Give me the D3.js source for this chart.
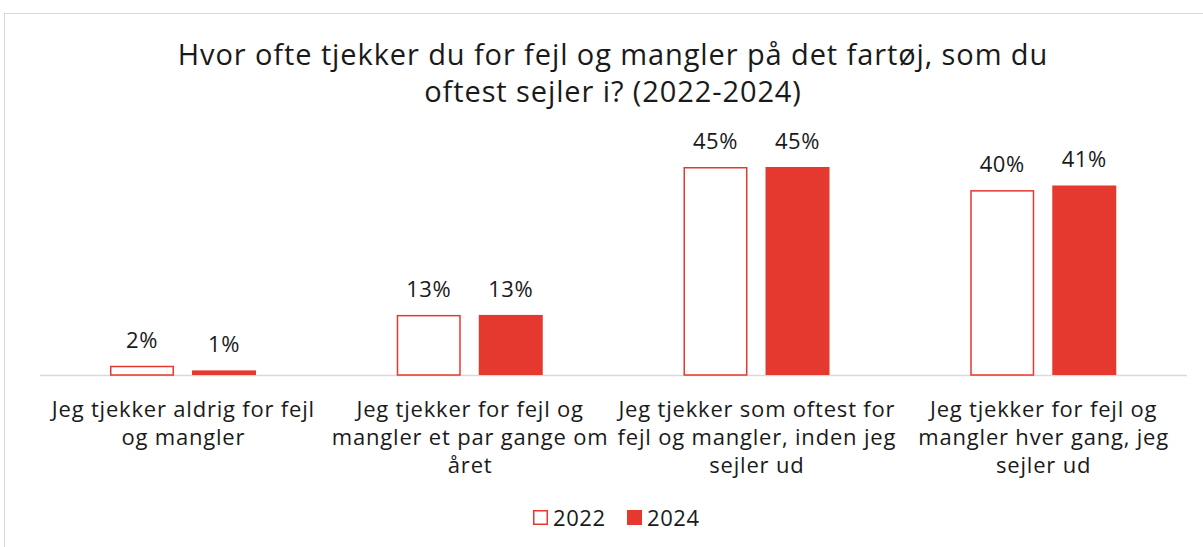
<!DOCTYPE html>
<html>
<head>
<meta charset="utf-8">
<script src="https://cdn.jsdelivr.net/npm/d3@7"></script>
<style>
  body { margin: 0; background: #fff; }
  svg { font-family: "Open Sans", Lato, sans-serif; }
</style>
</head>
<body>
<svg id="chart" width="1203" height="547"></svg>
<script>
// data
let categories = [
  ["Jeg tjekker aldrig for fejl", "og mangler"],
  ["Jeg tjekker for fejl og", "mangler et par gange om", "året"],
  ["Jeg tjekker som oftest for", "fejl og mangler, inden jeg", "sejler ud"],
  ["Jeg tjekker for fejl og", "mangler hver gang, jeg", "sejler ud"]
]
let years = ["2022", "2024"]
let values2022 = [2, 13, 45, 40]
let values2024 = [1, 13, 45, 41]
let titleLines = ["Hvor ofte tjekker du for fejl og mangler på det fartøj, som du", "oftest sejler i? (2022-2024)"]

let red = "#e5392f"

let svg = d3.select("#chart")

// outer frame
svg.append("rect")
  .attr("x", 4.5).attr("y", 13.5)
  .attr("width", 1220).attr("height", 560)
  .attr("fill", "#fff")
  .attr("stroke", "#d9d9d9")

// title
svg.append("g").selectAll("text")
  .data(titleLines)
  .enter().append("text")
    .attr("x", 613)
    .attr("y", (d, i) => 65 + i * 37)
    .attr("text-anchor", "middle")
    .attr("font-size", 29)
    .attr("letter-spacing", 0.9)
    .attr("fill", "#1a1a1a")
    .text(d => d)

//========================== SCALES =======================================
let margin = {left: 40, right: 16},
    baseline = 375

let x0 = d3.scaleBand()
  .domain(d3.range(categories.length))
  .range([margin.left, 1187])

let x1 = d3.scaleBand()
  .domain(years)
  .range([70, 216])
  .paddingInner(0.22)

let y = d3.scaleLinear().domain([0, 45]).range([baseline, 167])

let series = [
  {year: "2022", values: values2022},
  {year: "2024", values: values2024}
]

// axis line
svg.append("line")
  .attr("x1", margin.left).attr("x2", 1187)
  .attr("y1", baseline + 0.5).attr("y2", baseline + 0.5)
  .attr("stroke", "#d9d9d9")
  .attr("stroke-width", 1.5)

let groups = svg.selectAll(".serie")
  .data(series)
  .enter().append("g")
    .attr("class", "serie")

groups.selectAll("rect")
  .data(s => s.values.map((v, i) => ({year: s.year, v: v, i: i})))
  .enter().append("rect")
    .attr("x", d => x0(d.i) + x1(d.year) + (d.year == "2022" ? 0.75 : 0))
    .attr("y", d => y(d.v) + (d.year == "2022" ? 0.75 : 0))
    .attr("width", d => x1.bandwidth() - (d.year == "2022" ? 1.5 : 0))
    .attr("height", d => baseline - y(d.v) - (d.year == "2022" ? 0.75 : 0))
    .attr("fill", d => d.year == "2022" ? "#fff" : red)
    .attr("stroke", d => d.year == "2022" ? red : "none")
    .attr("stroke-width", 1.5)

groups.selectAll("text")
  .data(s => s.values.map((v, i) => ({year: s.year, v: v, i: i})))
  .enter().append("text")
    .attr("x", d => x0(d.i) + x1(d.year) + x1.bandwidth() / 2)
    .attr("y", d => y(d.v) - 18)
    .attr("text-anchor", "middle")
    .attr("font-size", 22)
    .attr("letter-spacing", 0.6)
    .attr("fill", "#1a1a1a")
    .text(d => d.v + "%")

// category labels
let catLabels = svg.selectAll(".cat")
  .data(categories)
  .enter().append("text")
    .attr("class", "cat")
    .attr("text-anchor", "middle")
    .attr("font-size", 22)
    .attr("letter-spacing", 0.8)
    .attr("fill", "#1a1a1a")

catLabels.selectAll("tspan")
  .data((d, i) => d.map(l => ({l: l, i: i})))
  .enter().append("tspan")
    .attr("x", d => x0(d.i) + x0.bandwidth() / 2)
    .attr("y", (d, j) => 417 + j * 28)
    .text(d => d.l)

// legend
let legend = svg.selectAll(".legendItem")
  .data(years)
  .enter().append("g")
    .attr("class", "legendItem")
    .attr("transform", (d, i) => "translate(" + (533 + i * 94) + ",510)")

legend.append("rect")
  .attr("x", (d, i) => i == 0 ? 0.75 : 0)
  .attr("y", (d, i) => i == 0 ? 0.75 : 0)
  .attr("width", (d, i) => i == 0 ? 13.5 : 15)
  .attr("height", (d, i) => i == 0 ? 13.5 : 15)
  .attr("fill", (d, i) => i == 0 ? "#fff" : red)
  .attr("stroke", (d, i) => i == 0 ? red : "none")
  .attr("stroke-width", 1.5)

legend.append("text")
  .attr("x", 20)
  .attr("y", 15.5)
  .attr("font-size", 22)
  .attr("letter-spacing", 0.6)
  .attr("fill", "#1a1a1a")
  .text(d => d)
</script>
</body>
</html>
